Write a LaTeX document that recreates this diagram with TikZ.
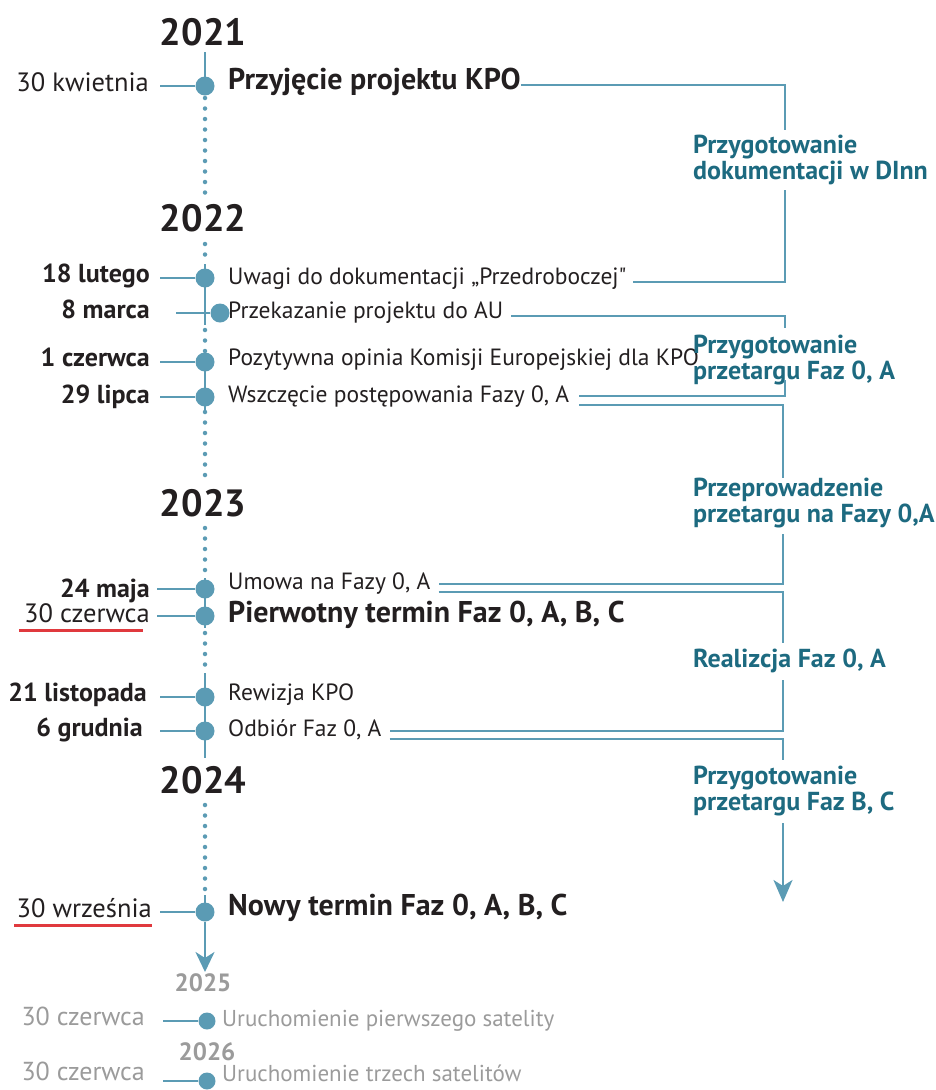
\documentclass[tikz,border=0pt]{standalone}
\usepackage{fontspec}
\setmainfont{PT Sans}
\usetikzlibrary{arrows.meta}
\definecolor{spine}{HTML}{5B9BB4}
\definecolor{labc}{HTML}{1D6A80}
\definecolor{ink}{HTML}{231F20}
\definecolor{greyt}{HTML}{9B9B9B}
\definecolor{redl}{HTML}{E0393E}
\begin{document}
\begin{tikzpicture}[x=1pt,y=-1pt,
  year/.style={font=\fontsize{38}{38}\selectfont\bfseries, text=ink, inner sep=0pt},
  greyyear/.style={font=\fontsize{25}{25}\selectfont\bfseries, text=greyt, inner sep=0pt},
  dot/.style={circle, fill=spine, inner sep=0pt, minimum size=19pt},
  sdot/.style={circle, fill=spine, inner sep=0pt, minimum size=17pt},
  date/.style={anchor=mid east, yshift=-3pt, font=\fontsize{26.5}{26.5}\selectfont, text=ink, inner sep=0pt},
  bdate/.style={date, font=\fontsize{26}{26}\selectfont\bfseries},
  gdate/.style={date, font=\fontsize{26}{26}\selectfont, text=greyt},
  ev/.style={anchor=mid west, yshift=-3pt, font=\fontsize{23.5}{23.5}\selectfont, text=ink, inner sep=0pt},
  bigev/.style={ev, font=\fontsize{30}{30}\selectfont\bfseries},
  gev/.style={ev, font=\fontsize{23}{23}\selectfont, text=greyt},
  lab/.style={anchor=west, align=left, font=\fontsize{26}{26}\selectfont\bfseries, text=labc, inner sep=0pt},
  conn/.style={draw=spine, line width=2.2pt},
  spineS/.style={draw=spine, line width=2.6pt},
  spineD/.style={draw=spine, line width=4.5pt, line cap=round, dash pattern=on 0pt off 10.5pt},
  uline/.style={draw=redl, line width=2.2pt}
]
\useasboundingbox (0,0) rectangle (936,1090);

% years
\node[year] (y2021) at (203,32) {2021};
\node[year] (y2022) at (203,218) {2022};
\node[year] (y2023) at (203,503) {2023};
\node[year] (y2024) at (203,780) {2024};
\node[greyyear] (y2025) at (203,983) {2025};
\node[greyyear] (y2026) at (207,1052) {2026};

% spine
\draw[spineS] (205,52) -- (205,86);
\draw[spineD] (205,98) -- (205,200);
\draw[spineD] (205,244) -- (205,264);
\draw[spineS] (205,264) -- (205,325);
\draw[spineD] (205,330) -- (205,352);
\draw[spineS] (205,352) -- (205,410);
\draw[spineD] (205,412) -- (205,482);
\draw[spineD] (205,528) -- (205,578);
\draw[spineS] (205,578) -- (205,628);
\draw[spineD] (205,633) -- (205,673);
\draw[spineS] (205,673) -- (205,758);
\draw[spineD] (205,805) -- (205,895);
\draw[spineS] (205,895) -- (205,912);

% dots
\node[dot] (d1) at (205,86) {};
\node[dot] (d2) at (205,278) {};
\node[dot] (d3) at (220,313) {};
\node[dot] (d4) at (205,362) {};
\node[dot] (d5) at (205,397) {};
\node[dot] (d6) at (205,589) {};
\node[dot] (d7) at (205,616) {};
\node[dot] (d8) at (205,697) {};
\node[dot] (d9) at (205,731) {};
\node[dot] (d10) at (205,912) {};
\node[sdot] (d11) at (207,1021) {};
\node[sdot] (d12) at (207,1081) {};

% tick start columns
\coordinate (tx) at (160,0);
\coordinate (tx3) at (176,0);
\coordinate (tx6) at (157,0);
\coordinate (txg) at (163,0);
\foreach \d in {d1,d2,d4,d5,d8,d9,d10} {\draw[conn] (\d) -- (\d -| tx);}
\draw[conn] (d3) -- (d3 -| tx3);
\draw[conn] (d6) -- (d6 -| tx6);
\draw[conn] (d7) -- (d7 -| tx6);
\draw[conn] (d11) -- (d11 -| txg);
\draw[conn] (d12) -- (d12 -| txg);

% bottom arrow of the spine
\coordinate (sEnd) at (205,972);
\draw[conn, line width=2.6pt, -{Stealth[length=20pt,width=19pt,inset=6pt]}] (d10) -- (sEnd);

% dates
\node[date]  (t1) at (149,86) {30 kwietnia};
\node[bdate] (t2) at (150,277) {18 lutego};
\node[bdate] (t3) at (150,313) {8 marca};
\node[bdate] (t4) at (150,361) {1 czerwca};
\node[bdate] (t5) at (150,398) {29 lipca};
\node[bdate] (t6) at (150,592) {24 maja};
\node[date]  (t7) at (150,617) {30 czerwca};
\node[bdate] (t8) at (147,696) {21 listopada};
\node[bdate] (t9) at (143,731) {6 grudnia};
\node[date]  (t10) at (152,912) {30 września};
\node[gdate] (t11) at (145,1020) {30 czerwca};
\node[gdate] (t12) at (145,1075) {30 czerwca};

\draw[uline] ([yshift=-8pt,xshift=-5pt]t7.base west) -- ([yshift=-8pt,xshift=-7pt]t7.base east);
\draw[uline] ([yshift=-8pt,xshift=-2pt]t10.base west) -- ([yshift=-8pt]t10.base east);

% events
\node[bigev] (e1) at (228,84) {Przyjęcie projektu KPO};
\node[ev] (e2) at (228,279) {Uwagi do dokumentacji „Przedroboczej\textquotedbl};
\node[ev] (e3) at (228,313) {Przekazanie projektu do AU};
\node[ev] (e4) at (228,360) {Pozytywna opinia Komisji Europejskiej dla KPO};
\node[ev] (e5) at (228,397) {Wszczęcie postępowania Fazy 0, A};
\node[ev] (e6) at (228,584) {Umowa na Fazy 0, A};
\node[bigev] (e7) at (228,617) {Pierwotny termin Faz 0, A, B, C};
\node[ev] (e8) at (228,695) {Rewizja KPO};
\node[ev] (e9) at (228,731) {Odbiór Faz 0, A};
\node[bigev] (e10) at (228,910) {Nowy termin Faz 0, A, B, C};
\node[gev] (e11) at (222,1021) {Uruchomienie pierwszego satelity};
\node[gev] (e12) at (222,1076) {Uruchomienie trzech satelitów};

% phase labels
\node[lab] (L1) at (693,160) {Przygotowanie\\dokumentacji w DInn};
\node[lab] (L2) at (693,360) {Przygotowanie\\przetargu Faz 0, A};
\node[lab] (L3) at (693,503) {Przeprowadzenie\\przetargu na Fazy 0,A};
\node[lab] (L4) at (693,661) {Realizcja Faz 0, A};
\node[lab] (L5) at (693,791) {Przygotowanie\\przetargu Faz B, C};

% bracket gap ends
\coordinate (g1a) at (785,130); \coordinate (g1b) at (785,190);
\coordinate (g2a) at (785,328); \coordinate (g2b) at (785,380);
\coordinate (g3a) at (783,478); \coordinate (g3b) at (783,534);
\coordinate (g4a) at (783,643); \coordinate (g4b) at (783,680);
\coordinate (g5a) at (783,760); \coordinate (g5b) at (783,823);
\coordinate (g5end) at (783,902);

% brackets
\draw[conn] ([yshift=2pt]e1.mid east) -| (g1a);
\draw[conn] (g1b) |- ([xshift=6pt]e2.mid east);
\draw[conn] ([xshift=8pt]e3.mid east) -| (g2a);
\draw[conn] (g2b) |- ([xshift=10pt,yshift=4pt]e5.mid east);
\draw[conn] ([xshift=10pt,yshift=-5pt]e5.mid east) -| (g3a);
\draw[conn] (g3b) |- ([xshift=8pt,yshift=3pt]e6.mid east);
\draw[conn] ([xshift=8pt,yshift=-5pt]e6.mid east) -| (g4a);
\draw[conn] (g4b) |- ([xshift=8pt,yshift=3pt]e9.mid east);
\draw[conn] ([xshift=8pt,yshift=-5pt]e9.mid east) -| (g5a);
\draw[conn, -{Stealth[length=22pt,width=19pt,inset=6pt]}] (g5b) -- (g5end);
\end{tikzpicture}
\end{document}
